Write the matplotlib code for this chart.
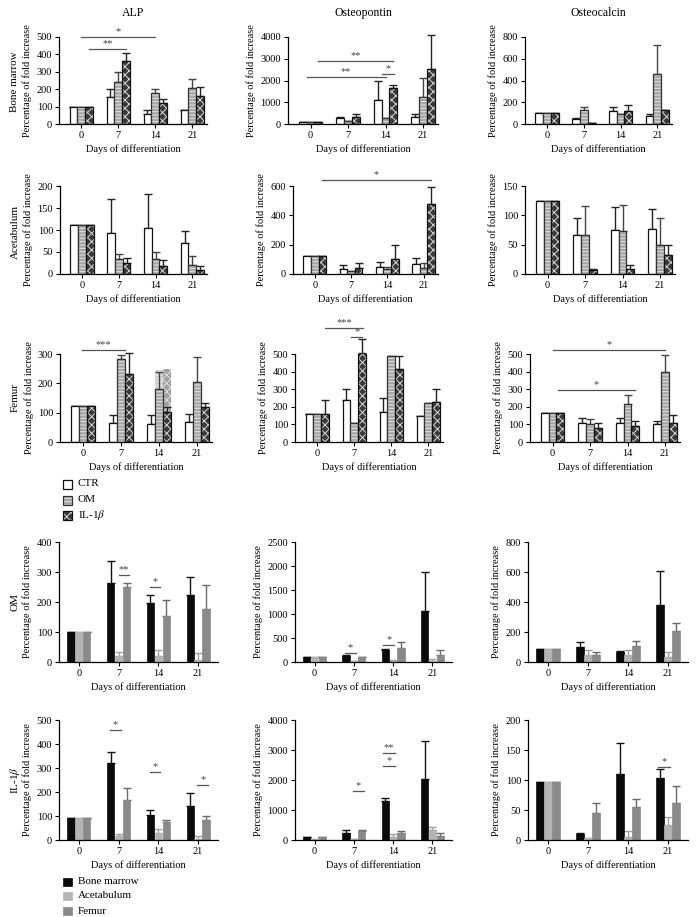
import matplotlib
matplotlib.use('Agg')
import matplotlib.pyplot as plt
import numpy as np
from matplotlib.patches import Rectangle

plt.rcParams['font.family'] = ['Liberation Serif', 'DejaVu Serif']
plt.rcParams['mathtext.fontset'] = 'stix'
plt.rcParams['hatch.linewidth'] = 0.7

W, H = 698, 917
fig = plt.figure(figsize=(W / 100, H / 100), dpi=100)

days = ['0', '7', '14', '21']
markers_titles = ['ALP', 'Osteopontin', 'Osteocalcin']
tissues = ['Bone marrow', 'Acetabulum', 'Femur']
conditions = ['CTR', 'OM', 'IL-1$\\beta$']

# ---- Top block: rows = tissue, series = condition (mean, sd) ----
bm_alp_ctr = [100, 155, 57, 80];   bm_alp_ctr_sd = [0, 45, 21, 3]
bm_alp_om = [100, 240, 180, 205];  bm_alp_om_sd = [0, 60, 23, 53]
bm_alp_il = [100, 360, 122, 160];  bm_alp_il_sd = [0, 48, 20, 55]

bm_opn_ctr = [100, 290, 1100, 330];  bm_opn_ctr_sd = [0, 50, 880, 120]
bm_opn_om = [100, 130, 270, 1220];   bm_opn_om_sd = [0, 0, 20, 910]
bm_opn_il = [100, 320, 1650, 2550];  bm_opn_il_sd = [0, 120, 150, 1550]

bm_ocn_ctr = [105, 50, 115, 75];  bm_ocn_ctr_sd = [0, 8, 40, 13]
bm_ocn_om = [105, 125, 88, 460];  bm_ocn_om_sd = [0, 35, 0, 265]
bm_ocn_il = [105, 12, 120, 125];  bm_ocn_il_sd = [0, 0, 58, 0]

ac_alp_ctr = [111, 94, 105, 70];  ac_alp_ctr_sd = [0, 76, 77, 28]
ac_alp_om = [111, 33, 34, 21];    ac_alp_om_sd = [0, 13, 17, 19]
ac_alp_il = [111, 24, 18, 10];    ac_alp_il_sd = [0, 12, 13, 8]

ac_opn_ctr = [120, 35, 50, 70];   ac_opn_ctr_sd = [0, 27, 35, 40]
ac_opn_om = [120, 20, 35, 40];    ac_opn_om_sd = [0, 0, 13, 35]
ac_opn_il = [120, 40, 105, 480];  ac_opn_il_sd = [0, 35, 95, 115]

ac_ocn_ctr = [125, 66, 75, 76];  ac_ocn_ctr_sd = [0, 29, 39, 35]
ac_ocn_om = [125, 67, 74, 50];   ac_ocn_om_sd = [0, 49, 43, 46]
ac_ocn_il = [125, 6, 9, 33];     ac_ocn_il_sd = [0, 2, 6, 17]

fe_alp_ctr = [122, 65, 60, 68];    fe_alp_ctr_sd = [0, 28, 31, 29]
fe_alp_om = [122, 283, 180, 205];  fe_alp_om_sd = [0, 14, 57, 85]
fe_alp_il = [122, 233, 102, 118];  fe_alp_il_sd = [0, 72, 16, 15]
fe_alp_ghost_om = [0, 0, 245, 0]
fe_alp_ghost_il = [0, 0, 250, 0]

fe_opn_ctr = [160, 238, 170, 145];  fe_opn_ctr_sd = [0, 65, 80, 0]
fe_opn_om = [160, 110, 490, 222];   fe_opn_om_sd = [0, 0, 0, 0]
fe_opn_il = [160, 505, 412, 225];   fe_opn_il_sd = [80, 80, 78, 78]

fe_ocn_ctr = [165, 110, 110, 100];  fe_ocn_ctr_sd = [0, 25, 28, 22]
fe_ocn_om = [165, 100, 215, 398];   fe_ocn_om_sd = [0, 28, 50, 97]
fe_ocn_il = [165, 78, 92, 108];     fe_ocn_il_sd = [0, 30, 26, 47]

# ---- Bottom block: rows = condition, series = tissue ----
om_alp_bm = [100, 265, 197, 223];  om_alp_bm_sd = [0, 73, 26, 62]
om_alp_ac = [100, 20, 20, 8];      om_alp_ac_sd = [0, 13, 20, 22]
om_alp_fe = [100, 250, 155, 178];  om_alp_fe_sd = [0, 13, 52, 79]

om_opn_bm = [100, 130, 260, 1070];  om_opn_bm_sd = [0, 20, 15, 800]
om_opn_ac = [100, 30, 30, 30];      om_opn_ac_sd = [0, 0, 10, 30]
om_opn_fe = [100, 100, 300, 140];   om_opn_fe_sd = [0, 0, 120, 110]

om_ocn_bm = [88, 100, 70, 380];  om_ocn_bm_sd = [0, 35, 5, 225]
om_ocn_ac = [88, 45, 50, 35];    om_ocn_ac_sd = [0, 35, 30, 30]
om_ocn_fe = [88, 50, 110, 210];  om_ocn_fe_sd = [0, 18, 30, 50]

il_alp_bm = [90, 320, 105, 140];  il_alp_bm_sd = [0, 45, 20, 55]
il_alp_ac = [90, 15, 30, 5];      il_alp_ac_sd = [0, 10, 15, 10]
il_alp_fe = [90, 165, 75, 85];    il_alp_fe_sd = [0, 50, 10, 15]

il_opn_bm = [100, 250, 1300, 2050];  il_opn_bm_sd = [0, 100, 100, 1250]
il_opn_ac = [50, 50, 100, 350];      il_opn_ac_sd = [0, 0, 100, 100]
il_opn_fe = [100, 300, 250, 150];    il_opn_fe_sd = [0, 30, 50, 100]

il_ocn_bm = [97, 10, 110, 103];  il_ocn_bm_sd = [0, 2, 52, 15]
il_ocn_ac = [97, 3, 5, 25];      il_ocn_ac_sd = [0, 0, 10, 13]
il_ocn_fe = [97, 45, 55, 62];    il_ocn_fe_sd = [0, 17, 13, 28]

# significance brackets: (row, col, x_start, x_end, y, label)
sig = [
    (0, 0, 0.0, 2.0, 500, '*'), (0, 0, 0.21, 1.21, 430, '**'),
    (0, 1, 0.2, 2.2, 2900, '**'), (0, 1, -0.1, 2.0, 2170, '**'), (0, 1, 1.9, 2.22, 2300, '*'),
    (1, 1, 0.2, 3.2, 640, '*'),
    (2, 0, -0.02, 1.1, 315, '***'),
    (2, 1, 0.21, 1.24, 648, '***'), (2, 1, 0.92, 1.22, 597, '*'),
    (2, 2, 0.0, 3.0, 523, '*'), (2, 2, 0.15, 2.2, 295, '*'),
    (3, 0, 1.0, 1.25, 290, '**'), (3, 0, 1.78, 2.05, 250, '*'),
    (3, 1, 0.77, 1.05, 190, '*'), (3, 1, 1.75, 2.03, 354, '*'),
    (4, 0, 0.78, 1.05, 460, '*'), (4, 0, 1.78, 2.05, 285, '*'), (4, 0, 2.98, 3.25, 230, '*'),
    (4, 1, 0.98, 1.25, 1650, '*'), (4, 1, 1.75, 2.05, 2900, '**'), (4, 1, 1.75, 2.05, 2480, '*'),
    (4, 2, 2.75, 3.05, 122, '*'),
]

top_data = [
    [(bm_alp_ctr, bm_alp_ctr_sd, bm_alp_om, bm_alp_om_sd, bm_alp_il, bm_alp_il_sd),
     (bm_opn_ctr, bm_opn_ctr_sd, bm_opn_om, bm_opn_om_sd, bm_opn_il, bm_opn_il_sd),
     (bm_ocn_ctr, bm_ocn_ctr_sd, bm_ocn_om, bm_ocn_om_sd, bm_ocn_il, bm_ocn_il_sd)],
    [(ac_alp_ctr, ac_alp_ctr_sd, ac_alp_om, ac_alp_om_sd, ac_alp_il, ac_alp_il_sd),
     (ac_opn_ctr, ac_opn_ctr_sd, ac_opn_om, ac_opn_om_sd, ac_opn_il, ac_opn_il_sd),
     (ac_ocn_ctr, ac_ocn_ctr_sd, ac_ocn_om, ac_ocn_om_sd, ac_ocn_il, ac_ocn_il_sd)],
    [(fe_alp_ctr, fe_alp_ctr_sd, fe_alp_om, fe_alp_om_sd, fe_alp_il, fe_alp_il_sd),
     (fe_opn_ctr, fe_opn_ctr_sd, fe_opn_om, fe_opn_om_sd, fe_opn_il, fe_opn_il_sd),
     (fe_ocn_ctr, fe_ocn_ctr_sd, fe_ocn_om, fe_ocn_om_sd, fe_ocn_il, fe_ocn_il_sd)],
]
bot_data = [
    [(om_alp_bm, om_alp_bm_sd, om_alp_ac, om_alp_ac_sd, om_alp_fe, om_alp_fe_sd),
     (om_opn_bm, om_opn_bm_sd, om_opn_ac, om_opn_ac_sd, om_opn_fe, om_opn_fe_sd),
     (om_ocn_bm, om_ocn_bm_sd, om_ocn_ac, om_ocn_ac_sd, om_ocn_fe, om_ocn_fe_sd)],
    [(il_alp_bm, il_alp_bm_sd, il_alp_ac, il_alp_ac_sd, il_alp_fe, il_alp_fe_sd),
     (il_opn_bm, il_opn_bm_sd, il_opn_ac, il_opn_ac_sd, il_opn_fe, il_opn_fe_sd),
     (il_ocn_bm, il_ocn_bm_sd, il_ocn_ac, il_ocn_ac_sd, il_ocn_fe, il_ocn_fe_sd)],
]

ymax = [[500, 4000, 800], [200, 600, 150], [300, 500, 500], [400, 2500, 800], [500, 4000, 200]]
ystep = [[100, 1000, 200], [50, 200, 50], [100, 100, 100], [100, 500, 200], [100, 1000, 50]]

# axes boxes in pixels: (x0, x1, ytop, ybottom)
boxes = [
    [(59, 207, 37, 124), (288, 438, 37, 124), (525, 672, 37, 124)],
    [(60, 207, 186, 274), (293, 438, 186, 274), (525, 675, 186, 274)],
    [(60, 212, 354, 442), (295, 443, 354, 442), (530, 680, 354, 442)],
    [(59, 218, 542, 662), (295, 452, 542, 662), (528, 688, 542, 662)],
    [(59, 218, 720, 840), (295, 452, 720, 840), (528, 688, 720, 840)],
]

FS = 7.5
x = np.arange(4)

OM_FACE, OM_HATCH = '#a6a6a6', '#e2e2e2'
IL_FACE, IL_HATCH = '#3a3a3a', '#d8d8d8'

def mk_ax(b):
    x0, x1, yt, yb = b
    return fig.add_axes([x0 / W, 1 - yb / H, (x1 - x0) / W, (yb - yt) / H])

def style(ax, r, c, xlim):
    ax.set_xlim(*xlim)
    ax.set_ylim(0, ymax[r][c])
    ax.set_yticks(np.arange(0, ymax[r][c] + 1, ystep[r][c]))
    ax.set_xticks(x)
    ax.set_xticklabels(days)
    for s in ['top', 'right']:
        ax.spines[s].set_visible(False)
    for s in ['left', 'bottom']:
        ax.spines[s].set_linewidth(0.9)
    ax.tick_params(direction='out', length=3, width=0.8, labelsize=FS, pad=2)
    ax.set_xlabel('Days of differentiation', fontsize=FS, labelpad=3)
    ax.set_ylabel('Percentage of fold increase', fontsize=FS, labelpad=3)

def errs(ax, xs, vals, sd, color):
    ax.errorbar(xs, vals, yerr=[np.zeros(4), sd], fmt='none', ecolor=color,
                elinewidth=1.0, capsize=2.8, capthick=1.0, zorder=1, clip_on=False)

axes = {}
# top block
w = 0.21
for r in range(3):
    for c in range(3):
        ax = mk_ax(boxes[r][c])
        axes[(r, c)] = ax
        ctr, ctr_sd, om, om_sd, il, il_sd = top_data[r][c]
        if r == 2 and c == 0:
            ax.bar(x, fe_alp_ghost_om, w, color='#cfcfcf', edgecolor='#ececec', hatch='-----', lw=0, zorder=0.5)
            ax.bar(x + w, fe_alp_ghost_il, w, color='#a0a0a0', edgecolor='#e0e0e0', hatch='xxxx', lw=0, zorder=0.5)
        errs(ax, x - w, ctr, ctr_sd, '#222222')
        errs(ax, x, om, om_sd, '#444444')
        errs(ax, x + w, il, il_sd, '#222222')
        ax.bar(x - w, ctr, w, color='white', edgecolor='#111111', lw=0.9, zorder=2)
        ax.bar(x, om, w, color=OM_FACE, edgecolor=OM_HATCH, hatch='-----', lw=0, zorder=2)
        ax.bar(x, om, w, fill=False, edgecolor='#333333', lw=0.9, zorder=3)
        ax.bar(x + w, il, w, color=IL_FACE, edgecolor=IL_HATCH, hatch='xxxx', lw=0, zorder=2)
        ax.bar(x + w, il, w, fill=False, edgecolor='#111111', lw=0.9, zorder=3)
        style(ax, r, c, (-0.6, 3.4))
        if r == 0:
            x0, x1, yt, yb = boxes[r][c]
            fig.text((x0 + x1) / 2 / W, 1 - 13 / H, markers_titles[c], fontsize=8.5,
                     ha='center', va='center')

# bottom block
w2 = 0.2
bcols = ['#0a0a0a', '#b4b4b4', '#8a8a8a']
ecols = ['#111111', '#a0a0a0', '#6a6a6a']
for rr in range(2):
    r = rr + 3
    for c in range(3):
        ax = mk_ax(boxes[r][c])
        axes[(r, c)] = ax
        bm, bm_sd, ac, ac_sd, fe, fe_sd = bot_data[rr][c]
        for k, (v, s) in enumerate([(bm, bm_sd), (ac, ac_sd), (fe, fe_sd)]):
            errs(ax, x + (k - 1) * w2, v, s, ecols[k])
            ax.bar(x + (k - 1) * w2, v, w2 * 0.92, color=bcols[k], edgecolor=bcols[k], lw=0.5, zorder=2)
        style(ax, r, c, (-0.5, 3.5))

for (r, c, xa, xb, yv, lab) in sig:
    ax = axes[(r, c)]
    ax.plot([xa, xb], [yv, yv], color='#555555', lw=0.9, clip_on=False, zorder=4)
    ax.annotate(lab, xy=((xa + xb) / 2, yv), xytext=(0, 0.5), textcoords='offset points',
                ha='center', va='bottom', fontsize=FS, color='#444444', annotation_clip=False)

# row labels
row_label_y = [82, 232, 398, 602, 780]
row_labels = ['Bone marrow', 'Acetabulum', 'Femur', 'OM', 'IL-1$\\beta$']
for yy, lab in zip(row_label_y, row_labels):
    fig.text(15 / W, 1 - yy / H, lab, rotation=90, ha='center', va='center', fontsize=FS + 0.5)

# manual legends in a full-figure overlay
ov = fig.add_axes([0, 0, 1, 1])
ov.set_xlim(0, W)
ov.set_ylim(H, 0)
ov.axis('off')

leg1_y = [484, 500, 515]
for yy, lab, k in zip(leg1_y, conditions, range(3)):
    if k == 0:
        ov.add_patch(Rectangle((63, yy - 4.5), 9, 9, facecolor='white', edgecolor='#111111', lw=0.9))
    elif k == 1:
        ov.add_patch(Rectangle((63, yy - 4.5), 9, 9, facecolor=OM_FACE, edgecolor=OM_HATCH, hatch='-----', lw=0))
        ov.add_patch(Rectangle((63, yy - 4.5), 9, 9, fill=False, edgecolor='#333333', lw=0.9))
    else:
        ov.add_patch(Rectangle((63, yy - 4.5), 9, 9, facecolor=IL_FACE, edgecolor=IL_HATCH, hatch='xxxx', lw=0))
        ov.add_patch(Rectangle((63, yy - 4.5), 9, 9, fill=False, edgecolor='#111111', lw=0.9))
    ov.text(78, yy, lab, fontsize=FS + 0.5, va='center', ha='left')

leg2_y = [882, 896, 911]
for yy, lab, k in zip(leg2_y, tissues, range(3)):
    ov.add_patch(Rectangle((63, yy - 4), 9, 8, facecolor=bcols[k], edgecolor=bcols[k], lw=0.5))
    ov.text(78, yy, lab, fontsize=FS + 0.5, va='center', ha='left')

fig.savefig('out.png', dpi=100)
